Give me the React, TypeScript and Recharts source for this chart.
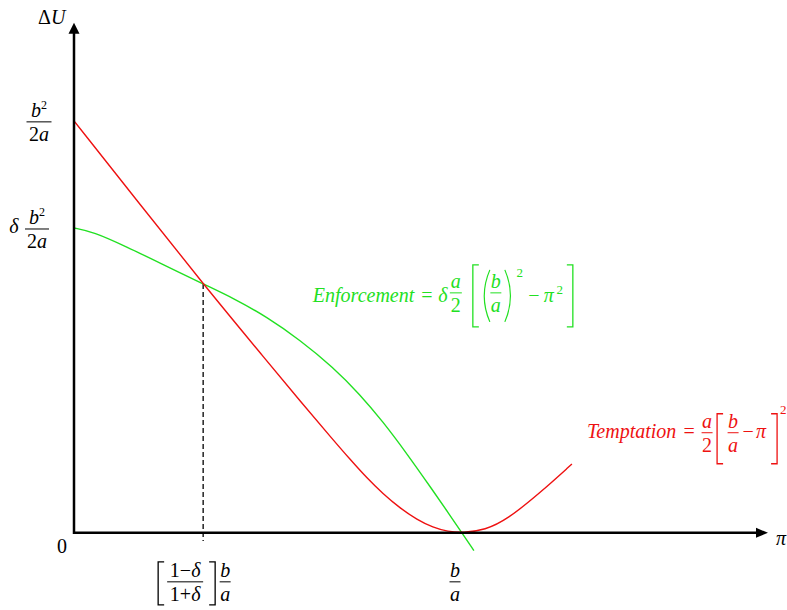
import { LineChart, Line, XAxis, YAxis, ReferenceLine, ReferenceDot } from 'recharts'

// x in units of b/a, y in units of b^2/2a
const RED_X = [0, 0.166, 0.332, 0.496, 0.581, 0.666, 0.71, 0.753, 0.794, 0.838, 0.882, 0.923, 0.961, 1.0, 1.057, 1.113, 1.198, 1.28]
const RED_Y = [1.0, 0.802, 0.604, 0.417, 0.32, 0.226, 0.178, 0.133, 0.095, 0.06, 0.032, 0.013, 0.003, 0, 0.007, 0.032, 0.097, 0.167]
const GREEN_X = [0, 0.049, 0.136, 0.221, 0.332, 0.409, 0.496, 0.581, 0.666, 0.735, 0.794, 0.856, 0.923, 0.959, 0.995, 1.028]
const GREEN_Y = [0.74, 0.731, 0.694, 0.655, 0.604, 0.57, 0.524, 0.468, 0.402, 0.336, 0.27, 0.192, 0.102, 0.053, 0.003, -0.043]
const X_TICKS = [0.332, 1]
const Y_TICKS = [0, 0.74, 1]
const CROSS = { x: 0.332, y: 0.604 }
const X_END = 1.784
const Y_END = 1.238

const RED = '#ee1111'
const GREEN = '#22e022'
const FONT = "'Liberation Serif', 'Times New Roman', serif"

const redData = RED_X.map((x, i) => ({ x, y: RED_Y[i] }))
const greenData = GREEN_X.map((x, i) => ({ x, y: GREEN_Y[i] }))

type P = { cx?: number; cy?: number }

function Frac({ cx, cy, w, num, den, color = '#000' }: any) {
  return (
    <g>
      <text x={cx} y={cy - 5} textAnchor="middle" fill={color}>{num}</text>
      <line x1={cx - w / 2} x2={cx + w / 2} y1={cy} y2={cy} stroke={color} strokeWidth={1} />
      <text x={cx} y={cy + 19} textAnchor="middle" fill={color}>{den}</text>
    </g>
  )
}

function Bracket({ x, top, bottom, w = 6, right = false, color = '#000' }: any) {
  const d = right
    ? `M${x} ${top} L${x + w} ${top} L${x + w} ${bottom} L${x} ${bottom}`
    : `M${x + w} ${top} L${x} ${top} L${x} ${bottom} L${x + w} ${bottom}`
  return <path d={d} fill="none" stroke={color} strokeWidth={1.3} />
}

function Paren({ x, top, bottom, w = 7, right = false, color = '#000' }: any) {
  const mid = (top + bottom) / 2
  const d = right
    ? `M${x} ${top} Q${x + w * 1.6} ${mid} ${x} ${bottom}`
    : `M${x + w} ${top} Q${x - w * 0.6} ${mid} ${x + w} ${bottom}`
  return <path d={d} fill="none" stroke={color} strokeWidth={1.2} />
}

const it = (s: string) => <tspan fontStyle="italic">{s}</tspan>

function YLabel({ cx = 0, cy = 0, value }: P & { value: number }) {
  const bSq = (
    <>
      {it('b')}
      <tspan fontSize={12} dy={-8}>2</tspan>
    </>
  )
  const twoA = <>2{it('a')}</>
  if (value === 0) {
    return <text x={cx - 12} y={cy + 20} textAnchor="middle" fontFamily={FONT} fontSize={20}>0</text>
  }
  if (value === 1) {
    return (
      <g fontFamily={FONT} fontSize={20}>
        <Frac cx={cx - 35} cy={cy + 1} w={25} num={bSq} den={twoA} />
      </g>
    )
  }
  return (
    <g fontFamily={FONT} fontSize={20}>
      <text x={cx - 60} y={cy + 5} textAnchor="middle" fontStyle="italic">δ</text>
      <Frac cx={cx - 37} cy={cy + 1} w={24} num={bSq} den={twoA} />
    </g>
  )
}

function XLabel({ cx = 0, cy = 0, value }: P & { value: number }) {
  const bar = cy + 49
  if (value === 1) {
    return (
      <g fontFamily={FONT} fontSize={20}>
        <Frac cx={cx - 8} cy={bar} w={11} num={it('b')} den={it('a')} />
      </g>
    )
  }
  return (
    <g fontFamily={FONT} fontSize={20}>
      <Bracket x={cx - 45} top={cy + 29} bottom={cy + 72} />
      <Frac cx={cx - 18} cy={bar} w={36} num={<>1−{it('δ')}</>} den={<>1+{it('δ')}</>} />
      <Bracket x={cx + 6} top={cy + 29} bottom={cy + 72} right />
      <Frac cx={cx + 22} cy={bar} w={11} num={it('b')} den={it('a')} />
    </g>
  )
}

function Enforcement({ cx = 0, cy = 0 }: P) {
  return (
    <g fontFamily={FONT} fontSize={20} fill={GREEN}>
      <text x={cx} y={cy + 9} fontStyle="italic" fill={GREEN}>Enforcement</text>
      <text x={cx + 114} y={cy + 9} textAnchor="middle" fill={GREEN}>=</text>
      <text x={cx + 130} y={cy + 9} textAnchor="middle" fontStyle="italic" fill={GREEN}>δ</text>
      <Frac cx={cx + 143} cy={cy} w={12} num={it('a')} den="2" color={GREEN} />
      <Bracket x={cx + 160} top={cy - 28} bottom={cy + 34} color={GREEN} />
      <Paren x={cx + 170} top={cy - 23} bottom={cy + 29} color={GREEN} />
      <Frac cx={cx + 183} cy={cy} w={11} num={it('b')} den={it('a')} color={GREEN} />
      <Paren x={cx + 192} top={cy - 23} bottom={cy + 29} right color={GREEN} />
      <text x={cx + 207} y={cy - 16} textAnchor="middle" fontSize={13} fill={GREEN}>2</text>
      <text x={cx + 221} y={cy + 9} textAnchor="middle" fill={GREEN}>−</text>
      <text x={cx + 236} y={cy + 9} textAnchor="middle" fontStyle="italic" fill={GREEN}>π</text>
      <text x={cx + 247} y={cy + 1} textAnchor="middle" fontSize={13} fill={GREEN}>2</text>
      <Bracket x={cx + 254} top={cy - 28} bottom={cy + 34} right color={GREEN} />
    </g>
  )
}

function Temptation({ cx = 0, cy = 0 }: P) {
  return (
    <g fontFamily={FONT} fontSize={20} fill={RED}>
      <text x={cx} y={cy + 5} fontStyle="italic" fill={RED}>Temptation</text>
      <text x={cx + 102} y={cy + 5} textAnchor="middle" fill={RED}>=</text>
      <Frac cx={cx + 120} cy={cy} w={11} num={it('a')} den="2" color={RED} />
      <Bracket x={cx + 130} top={cy - 19} bottom={cy + 31} color={RED} />
      <Frac cx={cx + 146} cy={cy} w={11} num={it('b')} den={it('a')} color={RED} />
      <text x={cx + 161} y={cy + 5} textAnchor="middle" fill={RED}>−</text>
      <text x={cx + 174} y={cy + 5} textAnchor="middle" fontStyle="italic" fill={RED}>π</text>
      <Bracket x={cx + 184} top={cy - 19} bottom={cy + 31} right color={RED} />
      <text x={cx + 193} y={cy - 19} fontSize={13} fill={RED}>2</text>
    </g>
  )
}

export default function App() {
  return (
    <div style={{ position: 'absolute', left: 0, top: 0, background: '#fff' }}>
      <LineChart width={787} height={610} margin={{ top: 22, right: 12.8, bottom: 44.2, left: 74 }}>
        <XAxis type="number" dataKey="x" domain={[0, 1.8]} allowDataOverflow hide />
        <YAxis type="number" dataKey="y" domain={[-0.08, 1.24]} allowDataOverflow hide />

        <ReferenceLine segment={[{ x: CROSS.x, y: CROSS.y }, { x: CROSS.x, y: -0.02 }]} stroke="#000" strokeWidth={1.3} strokeDasharray="5 3" />

        <Line data={greenData} dataKey="y" type="basis" stroke={GREEN} strokeWidth={1.4} dot={false} isAnimationActive={false} />
        <Line data={redData} dataKey="y" type="basis" stroke={RED} strokeWidth={1.4} dot={false} isAnimationActive={false} />

        <ReferenceLine segment={[{ x: 0, y: 0 }, { x: X_END - 0.02, y: 0 }]} stroke="#000" strokeWidth={2.5} />
        <ReferenceLine segment={[{ x: 0, y: -0.003 }, { x: 0, y: Y_END - 0.02 }]} stroke="#000" strokeWidth={2.5} />

        <ReferenceDot x={X_END} y={0} r={0} shape={(p: any) => (
          <g>
            <polygon points={`${p.cx},${p.cy} ${p.cx - 12},${p.cy - 5} ${p.cx - 12},${p.cy + 5}`} fill="#000" />
            <text x={p.cx + 8} y={p.cy + 12} fontFamily={FONT} fontSize={20} fontStyle="italic">π</text>
          </g>
        )} />
        <ReferenceDot x={0} y={Y_END} r={0} shape={(p: any) => (
          <g>
            <polygon points={`${p.cx},${p.cy} ${p.cx - 5.5},${p.cy + 11} ${p.cx + 5.5},${p.cy + 11}`} fill="#000" />
            <text x={p.cx - 36} y={p.cy + 1} fontFamily={FONT} fontSize={20}>Δ{it('U')}</text>
          </g>
        )} />

        {Y_TICKS.map((v) => (
          <ReferenceDot key={'y' + v} x={0} y={v} r={0} shape={(p: any) => <YLabel cx={p.cx} cy={p.cy} value={v} />} />
        ))}
        {X_TICKS.map((v) => (
          <ReferenceDot key={'x' + v} x={v} y={0} r={0} shape={(p: any) => <XLabel cx={p.cx} cy={p.cy} value={v} />} />
        ))}

        <ReferenceDot x={0.614} y={0.5825} r={0} shape={(p: any) => <Enforcement cx={p.cx} cy={p.cy} />} />
        <ReferenceDot x={1.319} y={0.243} r={0} shape={(p: any) => <Temptation cx={p.cx} cy={p.cy} />} />
      </LineChart>
    </div>
  )
}
